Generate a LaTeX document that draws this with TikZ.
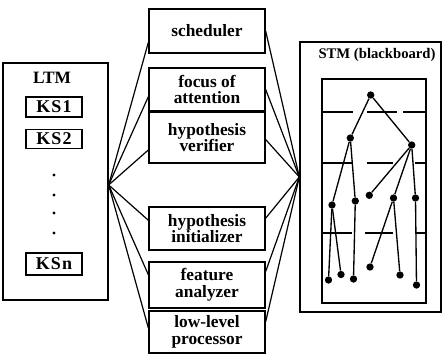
\documentclass[tikz,border=0pt]{standalone}
\usepackage{fontspec}
\setmainfont{Liberation Serif}
\usetikzlibrary{positioning}

\tikzset{
  module/.style={draw, line width=1pt, minimum width=87pt, inner sep=0pt, align=center, font=\fontsize{13}{12.5}\selectfont\bfseries},
  ksbox/.style={draw, line width=1pt, minimum width=42pt, inner sep=0pt, font=\fontsize{13.5}{13.5}\selectfont\bfseries\addfontfeatures{LetterSpace=6}},
  memory/.style={draw, line width=1pt, inner sep=0pt},
  link/.style={line width=0.9pt},
  tnode/.style={circle, fill, inner sep=0pt, minimum size=5.5pt},
  tedge/.style={line width=1pt},
}

\begin{document}
\begin{tikzpicture}[x=0.75pt,y=0.75pt,yscale=-1,xscale=1]
\useasboundingbox (0,0) rectangle (443,354);

%Long-term memory
\node[memory, minimum width=78.75pt, minimum height=177.75pt] (ltm) at (55.5,181.5) {};
\node[font=\fontsize{13}{13}\selectfont\bfseries] (ltmlabel) at (52,78) {LTM};
\node[ksbox, minimum height=15pt] (ks1) at (54,107) {KS1};
\node[ksbox, minimum height=14pt] (ks2) at (54,139) {KS2};
\node[ksbox, minimum height=16.5pt] (ksn) at (54,264) {KSn};
\foreach \y in {175,195,213,233}
  \fill (54,\y) circle (1.2pt);
\coordinate (lhub) at ([yshift=2.6pt]ltm.east);

%Modules
\node[module, minimum height=33pt] (sched) at (207,31) {scheduler};
\node[module, minimum height=32.25pt] (focus) at (207,89.5) {focus of\\attention};
\node[module, minimum height=38.25pt] (verif) at (207,137.5) {hypothesis\\verifier};
\node[module, minimum height=32.25pt] (init) at (207,228.5) {hypothesis\\initializer};
\node[module, minimum height=34.5pt] (feat) at (207,285) {feature\\analyzer};
\node[module, minimum height=31.5pt] (lowlev) at (207,332) {low-level\\processor};

%Short-term memory
\node[memory, minimum width=105.75pt, minimum height=202.5pt] (stm) at (370.5,177) {};
\node[font=\fontsize{11}{11}\selectfont\bfseries] (stmlabel) at (377,55) {STM (blackboard)};
\node[draw, line width=1pt, minimum width=78pt, minimum height=168pt, inner sep=0pt] (board) at (374,191) {};

%Levels
\foreach \y/\a/\b in {112/323/353, 112/367/397, 112/403/426,
                      163/322/352, 163/367/393, 163/415/426,
                      233/322/352, 233/365/393, 233/415/426}
  \draw[line width=1pt] (\a,\y) -- (\b,\y);

%Hypothesis tree
\node[tnode] (root) at (370.7,95) {};
\node[tnode] (a) at (350.3,138) {};
\node[tnode] (b) at (411.7,145) {};
\node[tnode] (c) at (332,205) {};
\node[tnode] (d) at (355.3,201) {};
\node[tnode] (e) at (369.3,195.3) {};
\node[tnode] (f) at (393.5,198) {};
\node[tnode] (g) at (415.5,198) {};
\node[tnode] (c1) at (328.5,280) {};
\node[tnode] (c2) at (341,274.5) {};
\node[tnode] (d1) at (353.5,279) {};
\node[tnode] (f1) at (370,267) {};
\node[tnode] (f2) at (400,275) {};
\node[tnode] (g1) at (416.5,285) {};
\foreach \u/\v in {root/a, root/b, a/c, a/d, c/c1, c/c2, d/d1,
                   b/e, b/f, b/g, f/f1, f/f2, g/g1}
  \draw[tedge] (\u) -- (\v);

%Connectors
\foreach \m/\l/\r in {sched/191/0, focus/187/0, verif/192/358,
                      init/172/10, feat/170/13, lowlev/176/10} {
  \draw[link] (lhub) -- (\m.\l);
  \draw[link] (\m.\r) -- (stm.west);
}

\end{tikzpicture}
\end{document}
